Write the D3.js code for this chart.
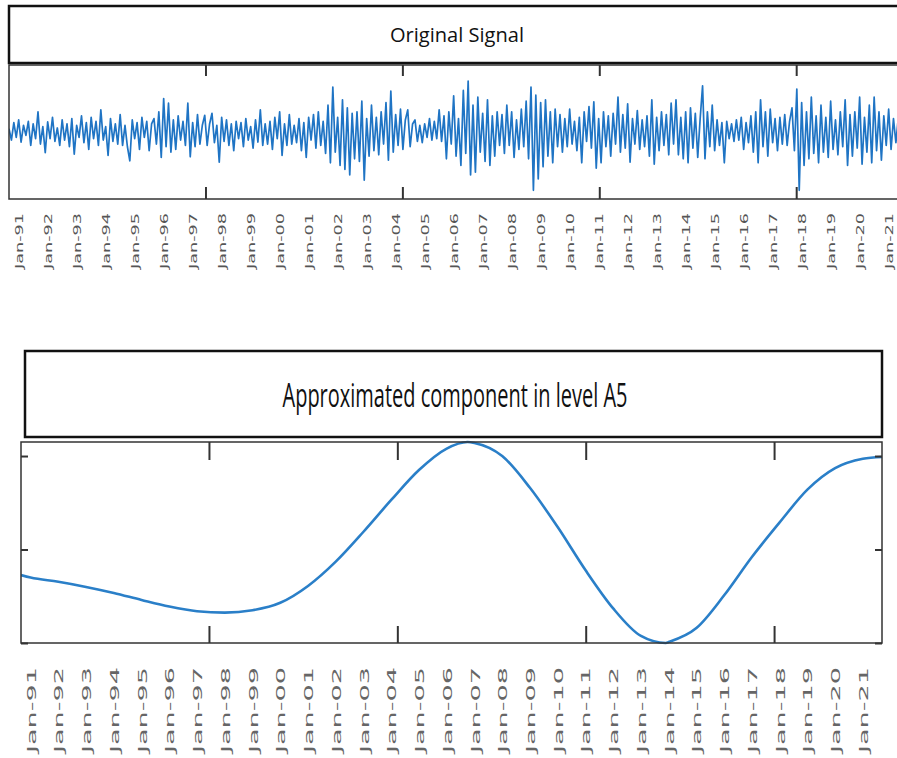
<!DOCTYPE html>
<html>
<head>
<meta charset="utf-8">
<script src="https://cdn.jsdelivr.net/npm/d3@7"></script>
<style>
  body { margin: 0; background: #fff; }
  svg { display: block; }
</style>
</head>
<body>
<div id="chart"></div>
<script>
// time span of both panels (decimal years)
const tStart = 1990.655;
const tEnd = 2021.69;

// x tick labels (one per January)
const labelYears = d3.range(1991, 2022);
const labelText = labelYears.map(y => "Jan-" + String(y % 100).padStart(2, "0"));

// unlabelled inner ticks drawn inside the frames
const innerTicks = [1997.43, 2004.22, 2011.01, 2017.8];

// original signal, monthly values starting at tStart (one row per year)
const signalValues = [
  0.05,-0.12,0.14,-0.08,0.18,-0.15,0.10,-0.05,0.16,-0.20,0.12,-0.10,
  0.30,-0.18,0.08,-0.31,0.15,-0.10,0.22,-0.14,0.06,-0.20,0.18,-0.12,
  0.12,-0.22,0.20,-0.33,0.10,-0.08,0.24,-0.16,0.14,-0.26,0.22,-0.10,
  0.16,-0.20,0.33,-0.12,0.08,-0.35,0.20,-0.14,0.12,-0.18,0.26,-0.20,
  0.10,-0.22,-0.43,0.18,-0.10,0.14,-0.26,0.22,-0.08,0.16,-0.28,0.12,
  0.20,-0.18,0.30,-0.38,0.50,-0.22,0.43,-0.30,0.18,-0.26,0.24,-0.12,
  0.16,-0.20,0.43,-0.37,0.14,-0.22,0.26,-0.18,0.10,0.25,-0.20,0.12,
  0.28,-0.16,0.10,-0.45,0.22,-0.14,0.18,-0.20,0.12,-0.28,0.16,-0.10,
  0.14,-0.22,0.20,-0.12,0.08,-0.24,0.18,-0.15,0.33,-0.20,0.12,-0.18,
  0.16,-0.26,0.22,-0.10,0.30,-0.35,0.12,-0.20,0.26,-0.18,0.10,-0.16,
  0.20,-0.28,0.14,-0.38,0.22,-0.12,0.26,-0.24,0.30,-0.20,0.16,-0.32,
  0.40,-0.46,0.67,-0.30,0.22,-0.50,0.48,-0.56,0.36,-0.64,0.28,-0.40,
  0.30,-0.44,0.46,-0.72,0.20,-0.36,0.40,-0.28,0.22,-0.34,0.30,-0.18,
  0.44,-0.42,0.61,-0.30,0.26,-0.20,0.34,-0.26,0.18,0.33,-0.22,0.12,
  0.18,-0.14,0.10,-0.16,0.12,-0.08,0.20,-0.12,0.16,-0.10,0.33,-0.14,
  0.24,-0.40,0.30,-0.18,0.54,-0.36,0.20,-0.50,0.62,-0.32,0.76,-0.64,
  0.40,-0.60,0.52,-0.30,0.28,-0.44,0.48,-0.50,0.24,-0.36,0.30,-0.20,
  0.26,-0.32,0.40,-0.20,0.30,-0.38,0.18,-0.26,0.34,-0.22,0.46,-0.40,
  0.67,-0.87,0.55,-0.70,0.44,-0.52,0.48,-0.36,0.30,-0.46,0.34,-0.22,
  0.26,-0.30,0.20,-0.22,0.34,-0.18,0.16,-0.28,0.22,-0.46,0.30,-0.14,
  0.38,-0.24,0.45,-0.54,0.20,-0.46,0.30,-0.22,0.24,-0.36,0.28,-0.18,
  0.52,-0.30,0.26,-0.24,0.42,-0.45,0.20,-0.18,0.32,-0.26,0.18,-0.22,
  0.24,-0.36,0.48,-0.48,0.22,-0.28,0.30,-0.20,0.26,-0.34,0.43,-0.18,
  0.48,-0.34,0.22,-0.40,0.30,-0.46,0.36,-0.24,0.28,-0.38,0.20,0.69,
  -0.40,0.30,-0.22,0.40,-0.28,0.18,-0.20,0.14,-0.46,0.16,-0.10,0.12,
  -0.14,0.18,-0.12,0.22,-0.26,0.14,-0.16,0.24,-0.30,0.30,-0.46,0.48,
  -0.22,0.30,-0.36,0.34,-0.16,0.20,-0.28,0.22,-0.18,0.26,-0.20,0.16,
  0.36,-0.28,0.64,-0.87,0.44,-0.50,0.30,-0.40,0.52,-0.32,0.24,-0.46,
  0.40,-0.30,0.22,-0.38,0.46,-0.26,0.18,-0.34,0.30,-0.22,0.48,-0.50,
  0.26,-0.36,0.30,-0.24,0.52,-0.48,0.22,-0.30,0.40,-0.46,0.52,-0.28,
  0.30,-0.42,0.24,-0.20,0.34,-0.26,0.20,-0.16,0.22,-0.30,0.18,-0.12
];
const signalTimes = signalValues.map((v, i) => tStart + i / 12);

// approximated component A5
const a5Times = [1990.655, 1991, 1992, 1993, 1994, 1995, 1996, 1997, 1998, 1999,
  2000, 2001, 2002, 2003, 2004, 2005, 2006, 2006.75, 2007, 2008, 2009, 2010, 2011,
  2012, 2013, 2013.9, 2014, 2015, 2016, 2017, 2018, 2019, 2020, 2021, 2021.69];
const a5Values = [0.727, 0.70, 0.655, 0.60, 0.535, 0.46, 0.39, 0.34, 0.325, 0.35,
  0.43, 0.61, 0.87, 1.19, 1.53, 1.85, 2.08, 2.15, 2.14, 2.0, 1.66, 1.24, 0.78,
  0.37, 0.075, 0.0, 0.01, 0.16, 0.51, 0.92, 1.29, 1.64, 1.87, 1.97, 1.99];
const a5YTicks = [0, 1, 2];

const W = 897, H = 758;
const svg = d3.select("#chart").append("svg")
  .attr("width", W)
  .attr("height", H);

// ---------- top panel ----------
const topBox = { left: 9, right: 909, top: 65, bottom: 199 };
const xTop = d3.scaleLinear().domain([tStart, tEnd]).range([topBox.left, topBox.right]);
const yTop = d3.scaleLinear().domain([-1, 1]).range([topBox.bottom, topBox.top]);

svg.append("rect")
  .attr("x", 9).attr("y", 6)
  .attr("width", 900).attr("height", 57)
  .attr("fill", "#fff").attr("stroke", "#111").attr("stroke-width", 2.5);

svg.append("text")
  .attr("x", 457).attr("y", 42)
  .attr("text-anchor", "middle")
  .attr("font-family", "Open Sans, sans-serif")
  .attr("font-size", 20)
  .attr("textLength", 134).attr("lengthAdjust", "spacingAndGlyphs")
  .attr("fill", "#111")
  .text("Original Signal");

svg.append("clipPath").attr("id", "clipTop")
  .append("rect")
  .attr("x", topBox.left).attr("y", topBox.top)
  .attr("width", topBox.right - topBox.left).attr("height", topBox.bottom - topBox.top);

svg.append("path")
  .datum(signalValues)
  .attr("clip-path", "url(#clipTop)")
  .attr("fill", "none")
  .attr("stroke", "#1f74c4")
  .attr("stroke-width", 1.7)
  .attr("stroke-linejoin", "round")
  .attr("d", d3.line().x((d, i) => xTop(signalTimes[i])).y(d => yTop(d)));

svg.append("rect")
  .attr("x", topBox.left).attr("y", topBox.top)
  .attr("width", topBox.right - topBox.left).attr("height", topBox.bottom - topBox.top)
  .attr("fill", "none").attr("stroke", "#333").attr("stroke-width", 1.5);

function innerAxis(g) {
  g.selectAll(".domain").remove();
  g.selectAll(".tick line").attr("stroke", "#333").attr("stroke-width", 2);
}

svg.append("g")
  .attr("transform", `translate(0,${topBox.bottom})`)
  .call(d3.axisBottom(xTop).tickValues(innerTicks).tickSize(-12).tickFormat(""))
  .call(innerAxis);
svg.append("g")
  .attr("transform", `translate(0,${topBox.top})`)
  .call(d3.axisTop(xTop).tickValues(innerTicks).tickSize(-11).tickFormat(""))
  .call(innerAxis);

function labelAxis(g, y0, size, len, color) {
  g.selectAll(".domain").remove();
  g.selectAll(".tick line").remove();
  g.selectAll(".tick text")
    .attr("transform", "rotate(-90)")
    .attr("x", -y0).attr("y", 0).attr("dy", "0.35em")
    .attr("text-anchor", "end")
    .attr("font-family", "DejaVu Sans, sans-serif")
    .attr("font-size", size)
    .attr("textLength", len).attr("lengthAdjust", "spacingAndGlyphs")
    .attr("fill", color);
}

svg.append("g")
  .attr("transform", `translate(0,${topBox.bottom})`)
  .call(d3.axisBottom(xTop).tickValues(labelYears).tickFormat((d, i) => labelText[i]))
  .call(labelAxis, 14, 11, 56, "#555");

// ---------- bottom panel ----------
const botBox = { left: 21, right: 882, top: 442, bottom: 643 };
const xBot = d3.scaleLinear().domain([tStart, tEnd]).range([botBox.left, botBox.right]);
const yBot = d3.scaleLinear().domain([0, 2.15]).range([botBox.bottom, botBox.top]);

svg.append("rect")
  .attr("x", 25).attr("y", 351)
  .attr("width", 857).attr("height", 86)
  .attr("fill", "#fff").attr("stroke", "#111").attr("stroke-width", 2.5);

svg.append("text")
  .attr("x", 455).attr("y", 407)
  .attr("text-anchor", "middle")
  .attr("font-family", "Open Sans, sans-serif")
  .attr("font-size", 33)
  .attr("textLength", 345).attr("lengthAdjust", "spacingAndGlyphs")
  .attr("fill", "#111")
  .text("Approximated component in level A5");

svg.append("clipPath").attr("id", "clipBot")
  .append("rect")
  .attr("x", botBox.left).attr("y", botBox.top - 2)
  .attr("width", botBox.right - botBox.left).attr("height", botBox.bottom - botBox.top + 4);

svg.append("path")
  .datum(a5Values)
  .attr("clip-path", "url(#clipBot)")
  .attr("fill", "none")
  .attr("stroke", "#2a7fc8")
  .attr("stroke-width", 2.6)
  .attr("d", d3.line().x((d, i) => xBot(a5Times[i])).y(d => yBot(d)).curve(d3.curveMonotoneX));

svg.append("rect")
  .attr("x", botBox.left).attr("y", botBox.top)
  .attr("width", botBox.right - botBox.left).attr("height", botBox.bottom - botBox.top)
  .attr("fill", "none").attr("stroke", "#333").attr("stroke-width", 1.5);

svg.append("g")
  .attr("transform", `translate(0,${botBox.bottom})`)
  .call(d3.axisBottom(xBot).tickValues(innerTicks).tickSize(-17).tickFormat(""))
  .call(innerAxis);
svg.append("g")
  .attr("transform", `translate(0,${botBox.top})`)
  .call(d3.axisTop(xBot).tickValues(innerTicks).tickSize(-18).tickFormat(""))
  .call(innerAxis);
svg.append("g")
  .attr("transform", `translate(${botBox.left},0)`)
  .call(d3.axisLeft(yBot).tickValues(a5YTicks).tickSize(-7).tickFormat(""))
  .call(innerAxis);
svg.append("g")
  .attr("transform", `translate(${botBox.right},0)`)
  .call(d3.axisRight(yBot).tickValues(a5YTicks).tickSize(-7).tickFormat(""))
  .call(innerAxis);

svg.append("g")
  .attr("transform", `translate(0,${botBox.bottom})`)
  .call(d3.axisBottom(xBot).tickValues(labelYears).tickFormat((d, i) => labelText[i]))
  .call(labelAxis, 24, 13, 86, "#666");
</script>
</body>
</html>
